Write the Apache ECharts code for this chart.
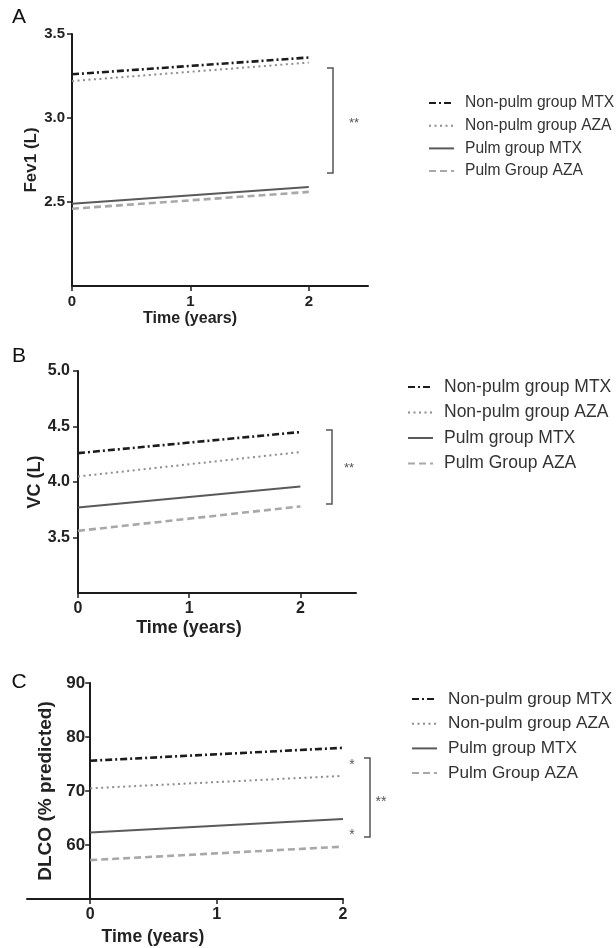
<!DOCTYPE html>
<html>
<head>
<meta charset="utf-8">
<script src="https://cdn.jsdelivr.net/npm/echarts@6/dist/echarts.min.js"></script>
<style>
  html, body { margin: 0; padding: 0; background: #fff; }
  #chart { width: 616px; height: 948px; }
</style>
</head>
<body>
<div id="chart"></div>
<script>
const years = [0, 2]
const seriesNames = ['Non-pulm group MTX', 'Non-pulm group AZA', 'Pulm group MTX', 'Pulm Group AZA']

// panel A - Fev1 (L)
const fevNonPulmMTX = [3.26, 3.36]
const fevNonPulmAZA = [3.22, 3.33]
const fevPulmMTX = [2.49, 2.59]
const fevPulmAZA = [2.46, 2.56]

// panel B - VC (L)
const vcNonPulmMTX = [4.26, 4.45]
const vcNonPulmAZA = [4.05, 4.27]
const vcPulmMTX = [3.77, 3.96]
const vcPulmAZA = [3.56, 3.78]

// panel C - DLCO (% predicted)
const dlcoNonPulmMTX = [75.6, 78.0]
const dlcoNonPulmAZA = [70.5, 72.8]
const dlcoPulmMTX = [62.3, 64.8]
const dlcoPulmAZA = [57.2, 59.7]

const xTicks = [0, 1, 2]
const fevTicks = [2.5, 3.0, 3.5]
const vcTicks = [3.5, 4.0, 4.5, 5.0]
const dlcoTicks = [60, 70, 80, 90]

const styles = [
  { color: '#1c1c1c', width: 2.6, type: [7, 3, 2, 3] },
  { color: '#8c8c8c', width: 2, type: [2, 3.5] },
  { color: '#5a5a5a', width: 2, type: 'solid' },
  { color: '#a8a8a8', width: 2.6, type: [7, 4] }
]

const axisColor = '#1c1c1c'
const font = '"Liberation Sans", Arial, sans-serif'

function xAxisFor(gridIndex, min, max, titleSize, labelSize, padRight, gap) {
  return {
    type: 'value', gridIndex, min, max,
    name: 'Time (years)', nameLocation: 'middle', nameGap: gap,
    nameTextStyle: { fontFamily: font, fontWeight: 'bold', fontSize: titleSize, color: '#222', padding: [0, padRight, 0, 0] },
    axisLine: { onZero: false, lineStyle: { color: axisColor, width: 2 } },
    axisTick: { customValues: xTicks, length: 5, lineStyle: { color: axisColor, width: 1.5 } },
    axisLabel: { customValues: xTicks, fontFamily: font, fontWeight: 'bold', fontSize: labelSize, color: '#222', margin: 8 },
    splitLine: { show: false }
  }
}

function yAxisFor(gridIndex, min, max, ticks, name, titleSize, labelSize, margin, gap, offset) {
  return {
    type: 'value', gridIndex, min, max, offset,
    name, nameLocation: 'middle', nameGap: gap,
    nameTextStyle: { fontFamily: font, fontWeight: 'bold', fontSize: titleSize, color: '#222' },
    axisLine: { onZero: false, lineStyle: { color: axisColor, width: 2 } },
    axisTick: { customValues: ticks, length: 5, lineStyle: { color: axisColor, width: 1.5 } },
    axisLabel: {
      customValues: ticks, fontFamily: font, fontWeight: 'bold', fontSize: labelSize, color: '#222', margin,
      formatter: v => (max < 10 ? v.toFixed(1) : String(v))
    },
    splitLine: { show: false }
  }
}

function lines(idx, arrays) {
  return arrays.map((vals, i) => ({
    name: seriesNames[i],
    type: 'line',
    xAxisIndex: idx, yAxisIndex: idx,
    data: years.map((x, j) => [x, vals[j]]),
    symbol: 'none',
    silent: true,
    lineStyle: { color: styles[i].color, width: styles[i].width, type: styles[i].type },
    itemStyle: { color: styles[i].color }
  }))
}

function legendFor(left, top, gap, size) {
  return {
    data: seriesNames, orient: 'vertical', left, top, padding: 0,
    itemWidth: 25, itemHeight: 12, itemGap: gap, selectedMode: false,
    itemStyle: { opacity: 0 },
    textStyle: { fontFamily: font, fontSize: size, color: '#333', lineHeight: 18, padding: [0, 0, 0, 6] }
  }
}

function bracket(x, y1, y2) {
  return {
    type: 'polyline',
    shape: { points: [[x - 6, y1], [x, y1], [x, y2], [x - 6, y2]] },
    style: { stroke: '#555', lineWidth: 1.5, fill: null }
  }
}

function label(text, x, y, size, color) {
  return {
    type: 'text', x, y,
    style: { text, fontFamily: font, fontSize: size, fill: color, align: 'center', verticalAlign: 'middle' }
  }
}

const chart = echarts.init(document.getElementById('chart'))

const option = {
  backgroundColor: '#fff',
  animation: false,
  grid: [
    { left: 72, top: 34, width: 296, height: 252, outerBoundsMode: 'none', containLabel: false },
    { left: 78, top: 371, width: 278, height: 222, outerBoundsMode: 'none', containLabel: false },
    { left: 27, top: 683, width: 316, height: 216, outerBoundsMode: 'none', containLabel: false }
  ],
  xAxis: [
    xAxisFor(0, 0, 2.5, 16, 15, 60, 25),
    xAxisFor(1, 0, 2.5, 18, 16, 56, 26),
    xAxisFor(2, -0.5, 2, 17.5, 16, 64, 29)
  ],
  yAxis: [
    yAxisFor(0, 2.0, 3.5, fevTicks, 'Fev1 (L)', 17, 15, 7, 29, 0),
    yAxisFor(1, 3.0, 5.0, vcTicks, 'VC (L)', 18, 16, 8, 33, 0),
    // x = 0 sits 0.5 of 2.5 units into the 316px grid
    yAxisFor(2, 50, 90, dlcoTicks, 'DLCO (% predicted)', 19, 17, 5, 26, -316 * 0.5 / 2.5)
  ],
  legend: [
    legendFor(428, 94, 4.7, 15.6),
    legendFor(407, 378, 7.5, 17.5),
    legendFor(411, 690, 6.7, 17.2)
  ],
  series: [
    ...lines(0, [fevNonPulmMTX, fevNonPulmAZA, fevPulmMTX, fevPulmAZA]),
    ...lines(1, [vcNonPulmMTX, vcNonPulmAZA, vcPulmMTX, vcPulmAZA]),
    ...lines(2, [dlcoNonPulmMTX, dlcoNonPulmAZA, dlcoPulmMTX, dlcoPulmAZA])
  ],
  graphic: [
    label('A', 19, 17, 21, '#111'),
    label('B', 19, 356, 21, '#111'),
    label('C', 19, 682, 21, '#111'),
    bracket(333, 68, 173),
    label('**', 354, 123, 13, '#555'),
    bracket(332, 430, 504),
    label('**', 349, 468, 13, '#555'),
    bracket(370, 758, 837),
    label('*', 352, 765, 14, '#555'),
    label('*', 352, 835, 14, '#555'),
    label('**', 381, 802, 14, '#555')
  ]
}

chart.setOption(option)
</script>
</body>
</html>
